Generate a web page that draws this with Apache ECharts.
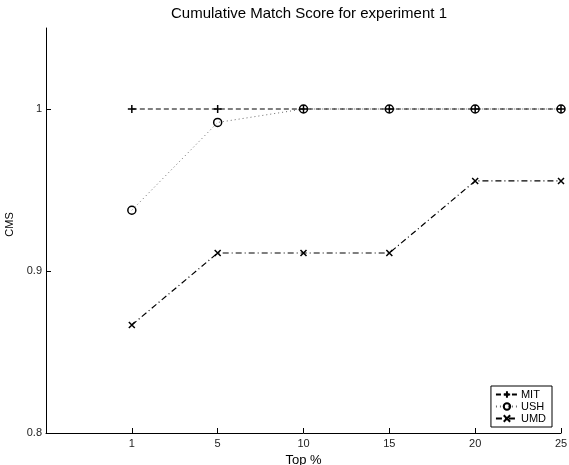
<!DOCTYPE html>
<html>
<head>
<meta charset="utf-8">
<script src="https://cdn.jsdelivr.net/npm/echarts@6/dist/echarts.min.js"></script>
<style>
  html, body { margin: 0; padding: 0; background: #fff; }
  #chart { width: 569px; height: 465px; }
</style>
</head>
<body>
<div id="chart"></div>
<script>
// x positions 1..6 carry the "Top %" labels below
const topLabels = ["1", "5", "10", "15", "20", "25"];
const mit = [1, 1, 1, 1, 1, 1];
const ush = [0.9375, 0.9917, 1, 1, 1, 1];
const umd = [0.8667, 0.9111, 0.9111, 0.9111, 0.9556, 0.9556];
const yTicks = [0.8, 0.9, 1];

const plus = "path://M0,5L10,5M5,0L5,10";
const cross = "path://M0,0L10,10M10,0L0,10";

const toPoints = (arr) => arr.map((v, i) => [i + 1, v]);

const chart = echarts.init(document.getElementById("chart"));

const font = "Liberation Sans, Arial, sans-serif";

const options = {
  animation: false,
  title: {
    text: "Cumulative Match Score for experiment 1",
    left: 304,
    textAlign: "center",
    top: 1,
    textStyle: { fontFamily: font, fontSize: 15, fontWeight: "normal", color: "#000" },
  },
  grid: { left: 46, right: 8, top: 28, bottom: 32, outerBoundsMode: "none" },
  legend: {
    orient: "vertical",
    right: 17,
    bottom: 38,
    backgroundColor: "#fff",
    borderColor: "#000",
    borderWidth: 1,
    borderRadius: 0,
    padding: [3, 6, 3, 4],
    itemGap: 1,
    itemWidth: 22,
    itemHeight: 8,
    textStyle: { fontFamily: font, fontSize: 11, color: "#000", padding: [0, 0, 0, -2] },
    data: ["MIT", "USH", "UMD"],
  },
  xAxis: {
    type: "value",
    min: 0,
    max: 6,
    interval: 1,
    name: "Top %",
    nameLocation: "middle",
    nameGap: 18,
    nameTextStyle: { fontFamily: font, fontSize: 13, color: "#000" },
    splitLine: { show: false },
    axisLine: { lineStyle: { color: "#000", width: 1 } },
    axisTick: { inside: true, length: 5, lineStyle: { color: "#000" }, customValues: [1, 2, 3, 4, 5, 6] },
    axisLabel: {
      fontFamily: font, fontSize: 11, color: "#222", margin: 5,
      customValues: [1, 2, 3, 4, 5, 6],
      formatter: (v) => topLabels[v - 1] || "",
    },
  },
  yAxis: {
    type: "value",
    min: 0.8,
    max: 1.05,
    name: "CMS",
    nameLocation: "middle",
    nameGap: 28,
    nameTextStyle: { fontFamily: font, fontSize: 11, color: "#000", padding: [0, 0, 0, 12] },
    splitLine: { show: false },
    axisLine: { show: true, lineStyle: { color: "#000", width: 1 } },
    axisTick: { inside: true, length: 5, lineStyle: { color: "#000" }, customValues: yTicks },
    axisLabel: {
      fontFamily: font, fontSize: 11, color: "#222", margin: 4,
      customValues: yTicks,
      formatter: (v) => String(+v.toFixed(2)),
    },
  },
  series: [
    {
      name: "MIT",
      type: "line",
      data: toPoints(mit),
      symbol: plus,
      symbolSize: 8,
      z: 3,
      itemStyle: { color: "rgba(0,0,0,0)", borderColor: "#000", borderWidth: 1.5 },
      lineStyle: { color: "#000", width: 1.2, type: [5, 3] },
    },
    {
      name: "USH",
      type: "line",
      data: toPoints(ush),
      symbol: "circle",
      symbolSize: 8,
      z: 2,
      itemStyle: { color: "rgba(0,0,0,0)", borderColor: "#000", borderWidth: 1.5 },
      lineStyle: { color: "#666", width: 1, type: [1, 3] },
    },
    {
      name: "UMD",
      type: "line",
      data: toPoints(umd),
      symbol: cross,
      symbolSize: 6,
      z: 2,
      itemStyle: { color: "rgba(0,0,0,0)", borderColor: "#000", borderWidth: 1.5 },
      lineStyle: { color: "#000", width: 1.2, type: [6, 3, 1, 3] },
    },
  ],
};

chart.setOption(options);
</script>
</body>
</html>
